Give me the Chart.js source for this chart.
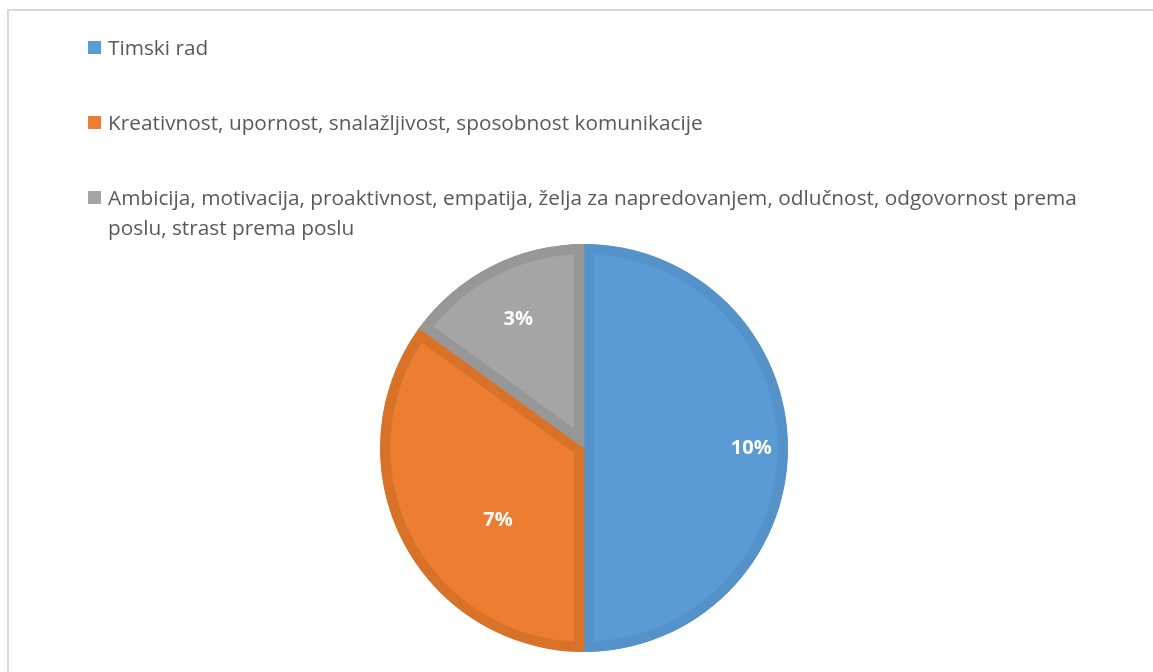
<!DOCTYPE html>
<html>
<head>
<meta charset="utf-8">
<script src="https://cdn.jsdelivr.net/npm/chart.js@4.4.1/dist/chart.umd.min.js"></script>
<style>
  html, body { margin: 0; padding: 0; background: #fff; }
  #wrap { position: relative; width: 1153px; height: 672px; overflow: hidden; }
  #frame { position: absolute; left: 7px; top: 9px; width: 1200px; height: 700px;
           border-top: 2px solid #d9d9d9; border-left: 2px solid #d9d9d9; }
  #chart-skills { position: absolute; left: 0; top: 0; }
  #legend { position: absolute; left: 88px; top: 32px; width: 1020px;
            font-family: "Open Sans", sans-serif; font-size: 20.8px; color: #595959; }
  .item { position: relative; padding-left: 20px; line-height: 30px; margin-bottom: 45px; }
  .box { position: absolute; left: 0; top: 9px; width: 13px; height: 13px; }
</style>
</head>
<body>
<div id="wrap">
  <div id="frame"></div>
  <canvas id="chart-skills" width="1153" height="672"></canvas>
  <div id="legend"></div>
</div>
<script>
const categories = [
  'Timski rad',
  'Kreativnost, upornost, snalažljivost, sposobnost komunikacije',
  'Ambicija, motivacija, proaktivnost, empatija, želja za napredovanjem, odlučnost, odgovornost prema poslu, strast prema poslu'
];
const values = [10, 7, 3];
const valueLabels = ['10%', '7%', '3%'];

const fillColors = ['#5b9bd5', '#ed7d31', '#a5a5a5'];
const edgeColors = ['#5592c9', '#d87229', '#979797'];
// where each value label sits: fraction of radius, and turn off the mid angle (deg)
const labelRadius = [0.82, 0.55, 0.71];
const labelTurn = [0, -13, 0];

// white value labels inside the slices
const sliceLabels = {
  id: 'sliceLabels',
  afterDatasetsDraw(chart) {
    const ctx = chart.ctx;
    const arcs = chart.getDatasetMeta(0).data;
    ctx.save();
    ctx.font = 'bold 20px "Open Sans", sans-serif';
    ctx.fillStyle = '#ffffff';
    ctx.textAlign = 'center';
    ctx.textBaseline = 'middle';
    arcs.forEach((arc, i) => {
      const p = arc.getProps(['x', 'y', 'startAngle', 'endAngle', 'outerRadius'], true);
      const mid = (p.startAngle + p.endAngle) / 2 + labelTurn[i] * Math.PI / 180;
      const r = p.outerRadius * labelRadius[i];
      ctx.fillText(valueLabels[i], p.x + Math.cos(mid) * r, p.y + Math.sin(mid) * r);
    });
    ctx.restore();
  }
};

const ctx_skills = document.getElementById('chart-skills');

const skillsChart = new Chart(ctx_skills, {
  type: 'pie',
  data: {
    labels: categories,
    datasets: [{
      data: values,
      backgroundColor: fillColors,
      borderColor: edgeColors,
      borderWidth: 10,
      borderAlign: 'inner'
    }]
  },
  options: {
    responsive: false,
    animation: false,
    layout: { padding: { top: 244, left: 380, right: 365, bottom: 20 } },
    plugins: {
      legend: { display: false },
      tooltip: { enabled: false }
    }
  },
  plugins: [sliceLabels]
});

// legend built from the chart's own labels
const legendEl = document.getElementById('legend');
skillsChart.data.labels.forEach((label, i) => {
  const item = document.createElement('div');
  item.className = 'item';
  const box = document.createElement('span');
  box.className = 'box';
  box.style.background = fillColors[i];
  item.appendChild(box);
  item.appendChild(document.createTextNode(label));
  legendEl.appendChild(item);
});
</script>
</body>
</html>
